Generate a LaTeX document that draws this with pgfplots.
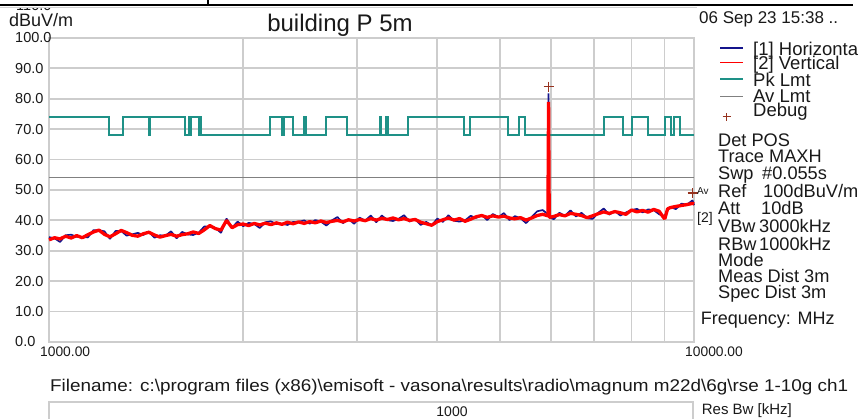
\documentclass[border=0pt]{standalone}
\usepackage{fontspec}
\setmainfont{Liberation Sans}
\usepackage{graphicx}
\usepackage{pgfplots}
\pgfplotsset{compat=1.18}
\usepackage{pgfplotstable}
\definecolor{tnavy}{RGB}{20,20,140}
\definecolor{tred}{RGB}{255,0,0}
\definecolor{tteal}{RGB}{30,145,135}
\definecolor{avgray}{RGB}{128,128,128}
\definecolor{gridgray}{RGB}{205,205,205}
\definecolor{dbg}{RGB}{150,50,30}
\definecolor{txt}{RGB}{25,25,25}
\newcommand{\fs}[1]{\fontsize{#1}{#1}\selectfont}

\pgfplotstableread{
f r b
1000 33.6 34.5
1020 34.3 34.1
1040 33.9 32.9
1061 34.8 35.1
1082 34.2 35.3
1104 35.0 34.6
1126 34.3 34.5
1149 35.3 34.4
1172 36.2 36.8
1195 36.8 36.8
1219 35.4 36.4
1243 34.6 33.9
1268 35.6 36.5
1294 36.7 36.5
1319 36.0 35.0
1346 35.1 35.4
1373 34.8 35.9
1400 35.6 35.2
1428 36.1 36.3
1457 35.2 34.3
1486 34.5 35.1
1516 35.0 35.0
1546 35.4 36.4
1577 34.8 34.1
1608 35.3 36.2
1641 35.6 35.4
1673 36.2 35.2
1707 35.7 36.0
1741 36.9 38.0
1776 38.3 37.9
1811 37.3 37.5
1848 36.8 35.9
1885 40.0 40.6
1922 37.6 37.6
1961 38.6 39.6
2000 38.8 38.1
2040 38.3 39.2
2081 39.0 38.8
2122 38.5 37.5
2165 39.1 39.4
2208 38.6 39.7
2252 39.2 38.8
2297 38.7 38.9
2343 39.4 38.5
2390 38.9 39.5
2438 39.5 39.5
2487 39.0 40.0
2536 39.6 38.9
2587 39.2 40.1
2639 39.8 39.6
2692 39.3 38.3
2745 39.7 40.0
2800 40.0 41.1
2856 39.5 39.1
2913 40.2 40.4
2972 39.8 38.9
3031 40.3 40.9
3092 39.9 39.9
3154 40.6 41.6
3217 40.1 39.4
3281 40.7 41.6
3347 40.3 40.1
3414 40.8 39.8
3482 40.2 40.5
3552 40.6 41.7
3623 40.0 39.6
3695 40.3 40.5
3769 39.4 38.5
3845 38.9 39.5
3921 38.4 38.4
4000 39.6 40.6
4080 40.2 39.5
4161 40.8 41.7
4245 40.1 39.9
4330 40.6 39.6
4416 39.7 40.0
4505 40.4 41.5
4595 41.2 40.8
4687 41.6 41.8
4780 41.0 40.1
4876 41.5 42.1
4974 41.1 41.1
5073 41.4 42.4
5174 40.8 40.1
5278 40.5 41.4
5383 40.9 40.7
5491 40.1 39.1
5601 40.8 41.1
5713 41.6 43.0
5827 42.0 43.4
5936 41.5 42.0
5950 79.0 81.8
5964 41.0 41.0
6063 41.3 40.4
6184 41.9 42.5
6308 41.5 41.5
6434 42.3 43.3
6562 42.0 41.3
6694 41.6 42.5
6828 40.9 40.7
6964 41.5 40.5
7103 42.2 42.5
7245 42.8 43.9
7390 42.3 41.9
7538 42.9 43.1
7689 42.5 41.6
7843 42.0 42.6
8000 43.4 43.4
8160 42.8 43.8
8323 43.3 42.6
8489 42.7 43.6
8659 43.6 43.4
8833 43.0 42.0
8950 41.2 41.5
9009 40.5 41.6
9100 43.8 43.4
9189 44.2 44.4
9373 44.6 43.7
9561 44.9 45.5
9752 45.2 45.2
9947 45.6 46.6
10000 45.4 45.0
}\trace

\begin{document}
\begin{tikzpicture}
\begin{axis}[
  at={(0pt,0pt)}, anchor=south west, name=ax,
  scale only axis, width=645pt, height=304pt,
  xmode=log, log basis x=10,
  xmin=1000, xmax=10000, ymin=0, ymax=100,
  xtick={1000,10000}, xticklabels={1000.00,10000.00},
  minor xtick={2000,3000,4000,5000,6000,7000,8000,9000},
  ytick={0,10,20,30,40,50,60,70,80,90,100},
  yticklabels={0.0,10.0,20.0,30.0,40.0,50.0,60.0,70.0,80.0,90.0,100.0},
  grid=both,
  grid style={draw=gridgray, line width=1.8pt},
  major grid style={draw=gridgray, line width=1.8pt},
  minor grid style={draw=gridgray, line width=1.8pt},
  axis line style={draw=gridgray, line width=1.8pt},
  major tick length=0pt, minor tick length=0pt,
  clip=false,
  xticklabel style={anchor=base west, inner sep=0pt, xshift=-9pt, yshift=-15pt, font=\fs{13.8}, text=txt},
  yticklabel style={anchor=west, inner sep=0pt, xshift=-34pt, font=\fs{14.5}, text=txt},
]
\addplot[tteal, line width=2pt, const plot, mark=none] coordinates {
(1000,74) (1240,68.2) (1300,74) (1427,68.2) (1435,74) (1626.5,68.2)
(1645.5,74) (1646.5,68.2) (1660,74) (1710,68.2) (1718.8,74) (1722.2,68.2)
(2200,74) (2300,68.2) (2310,74) (2390,68.2) (2483.5,74) (2500,68.2)
(2690,74) (2900,68.2) (3260,74) (3267,68.2) (3332,74) (3339,68.2)
(3345.8,74) (3358,68.2) (3600,74) (4400,68.2) (4500,74) (5150,68.2)
(5350,74) (5460,68.2) (7250,74) (7750,68.2) (8025,74) (8500,68.2)
(9000,74) (9200,68.2) (9300,74) (9500,68.2) (10000,68.2)};
\addplot[avgray, line width=1.3pt, mark=none] coordinates {(1000,54) (10000,54)};
\addplot[tnavy, line width=1.7pt, mark=none, line join=bevel] table[x=f,y=b]{\trace};
\addplot[tred, line width=3.3pt, mark=none, line join=bevel] table[x=f,y=r]{\trace};
\addplot[only marks, mark=+, mark size=5pt, dbg, line width=1.5pt] coordinates {(5950,84.0) (9954,49.0)};
\end{axis}

% top remnants
\node[anchor=base west, inner sep=0pt, text=txt] at (-33pt,331.5pt) {\fs{14.5}110.0};
\fill[white] (-49pt,334.5pt) rectangle (810pt,343pt);
\draw[gray!35, line width=1pt] (-49pt,334pt) -- (648pt,334pt);
\draw[black, line width=2.5pt] (-49pt,337pt) -- (804pt,337pt);
\draw[black, line width=2.5pt] (159pt,337pt) -- (159pt,343pt);

% title and unit
\node[anchor=base, inner sep=0pt, text=txt] at (291pt,310pt) {\fs{24}building P 5m};
\node[anchor=base west, inner sep=0pt, text=txt] at (-40pt,315pt) {\fs{18}dBuV/m};
\node[anchor=base west, inner sep=0pt, text=txt] at (650pt,318pt) {\fs{17}06 Sep 23 15:38 ..};

% legend
\draw[tnavy, line width=1.6pt] (671pt,293.7pt) -- (694pt,293.7pt);
\draw[tred, line width=1.6pt] (671pt,279.3pt) -- (694pt,279.3pt);
\draw[tteal, line width=1.6pt] (671pt,262.7pt) -- (694pt,262.7pt);
\draw[avgray, line width=1.6pt] (671pt,245.3pt) -- (694pt,245.3pt);
\draw[dbg, line width=1.3pt] (673.7pt,225.3pt) -- (681.7pt,225.3pt) (677.7pt,221.3pt) -- (677.7pt,229.3pt);
\node[anchor=base west, inner sep=0pt, text=txt] at (704pt,286pt) {\fs{18.5}[1] Horizontal};
\node[anchor=base west, inner sep=0pt, text=txt] at (704pt,272pt) {\fs{18.5}[2] Vertical};
\node[anchor=base west, inner sep=0pt, text=txt] at (704pt,255pt) {\fs{18.5}Pk Lmt};
\node[anchor=base west, inner sep=0pt, text=txt] at (704pt,239pt) {\fs{18.5}Av Lmt};
\node[anchor=base west, inner sep=0pt, text=txt] at (704pt,225pt) {\fs{18.5}Debug};

% info block
\node[anchor=base west, inner sep=0pt, text=txt] at (669pt,195pt) {\fs{18.2}Det POS};
\node[anchor=base west, inner sep=0pt, text=txt] at (669pt,179pt) {\fs{18.2}Trace MAXH};
\node[anchor=base west, inner sep=0pt, text=txt] at (669pt,162pt) {\fs{18.2}Swp};
\node[anchor=base west, inner sep=0pt, text=txt] at (713pt,162pt) {\fs{18.2}\#0.055s};
\node[anchor=base west, inner sep=0pt, text=txt] at (669pt,144pt) {\fs{18.2}Ref};
\node[anchor=base west, inner sep=0pt, text=txt] at (714pt,144pt) {\fs{18.2}100dBuV/m};
\node[anchor=base west, inner sep=0pt, text=txt] at (669pt,127pt) {\fs{18.2}Att};
\node[anchor=base west, inner sep=0pt, text=txt] at (712pt,127pt) {\fs{18.2}10dB};
\node[anchor=base west, inner sep=0pt, text=txt] at (669pt,109pt) {\fs{18.2}VBw};
\node[anchor=base west, inner sep=0pt, text=txt] at (710pt,109pt) {\fs{18.2}3000kHz};
\node[anchor=base west, inner sep=0pt, text=txt] at (669pt,91pt) {\fs{18.2}RBw};
\node[anchor=base west, inner sep=0pt, text=txt] at (710pt,91pt) {\fs{18.2}1000kHz};
\node[anchor=base west, inner sep=0pt, text=txt] at (669pt,75pt) {\fs{18.2}Mode};
\node[anchor=base west, inner sep=0pt, text=txt] at (669pt,59pt) {\fs{18.2}Meas Dist 3m};
\node[anchor=base west, inner sep=0pt, text=txt] at (669pt,43pt) {\fs{18.2}Spec Dist 3m};
\node[anchor=base west, inner sep=0pt, text=txt] at (651.7pt,17pt) {\fs{18}Frequency: MHz};

% trace labels near right edge
\node[anchor=base west, inner sep=0pt, text=txt] at (648pt,147pt) {\fs{10}Av};
\node[anchor=base west, inner sep=0pt, text=txt] at (648pt,119pt) {\fs{14}[2]};

% bottom
\node[anchor=base west, inner sep=0pt, text=txt] at (1pt,-50pt) {\resizebox{798pt}{\height}{\fs{17}Filename: c:\textbackslash program files (x86)\textbackslash emisoft - vasona\textbackslash results\textbackslash radio\textbackslash magnum m22d\textbackslash 6g\textbackslash rse 1-10g ch1}};
\draw[gridgray, line width=1.5pt] (0pt,-100pt) -- (0pt,-60pt) -- (644pt,-60pt) -- (644pt,-100pt);
\node[anchor=base, inner sep=0pt, text=txt] at (403pt,-75pt) {\fs{14}1000};
\node[anchor=base west, inner sep=0pt, text=txt] at (652.7pt,-73pt) {\fs{15}Res Bw [kHz]};

\pgfresetboundingbox
\path[use as bounding box] (-49pt,-77pt) rectangle (810pt,342pt);
\end{tikzpicture}
\end{document}
